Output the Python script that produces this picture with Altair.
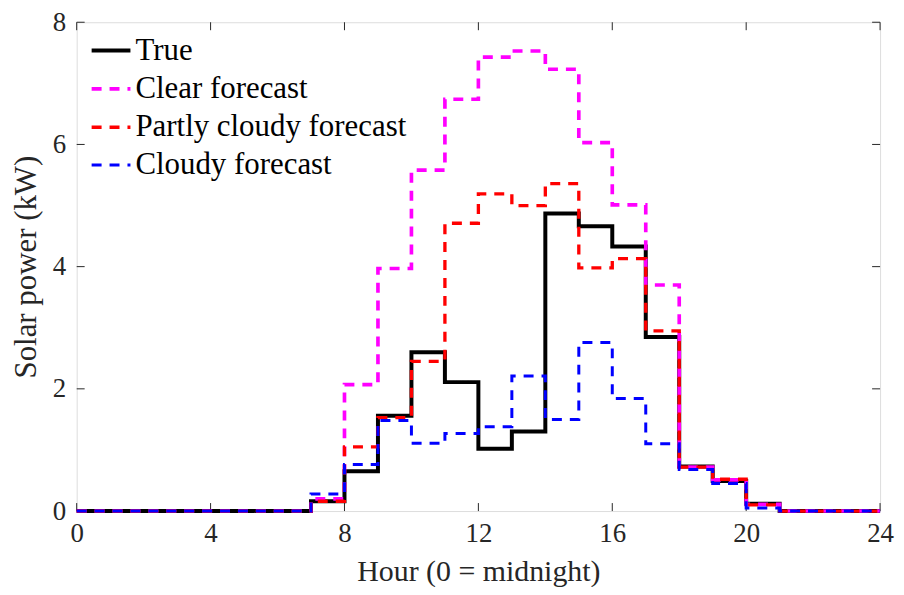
import altair as alt
import pandas as pd

# ---- data ----
series_names = ["True", "Clear forecast", "Partly cloudy forecast", "Cloudy forecast"]
hours = list(range(25))  # step edges 0..24
true_kw = [0, 0, 0, 0, 0, 0, 0, 0.16, 0.65, 1.56, 2.6, 2.11, 1.02, 1.3, 4.87, 4.66,
           4.33, 2.85, 0.73, 0.49, 0.12, 0, 0, 0]
clear_kw = [0, 0, 0, 0, 0, 0, 0, 0.2, 2.07, 3.97, 5.58, 6.74, 7.43, 7.53, 7.23, 6.03,
            5.01, 3.7, 0.72, 0.51, 0.11, 0, 0, 0]
partly_kw = [0, 0, 0, 0, 0, 0, 0, 0.16, 1.05, 1.53, 2.45, 4.71, 5.19, 5.0, 5.36, 3.98,
             4.13, 2.95, 0.72, 0.52, 0.1, 0, 0, 0]
cloudy_kw = [0, 0, 0, 0, 0, 0, 0, 0.28, 0.76, 1.48, 1.11, 1.27, 1.38, 2.21, 1.5, 2.76,
             1.84, 1.1, 0.68, 0.45, 0.05, 0, 0, 0]
x_ticks = [0, 4, 8, 12, 16, 20, 24]
y_ticks = [0, 2, 4, 6, 8]

colors = ["#000000", "#FF00FF", "#FF0000", "#0000FF"]
dashes = [[1, 0], [10, 8], [10, 8], [10, 8]]
widths = [4, 3, 3, 3]

rows = []
for name, vals in zip(series_names, [true_kw, clear_kw, partly_kw, cloudy_kw]):
    v = vals + [vals[-1]]
    for h, y in zip(hours, v):
        rows.append({"hour": h, "kw": y, "series": name})
df = pd.DataFrame(rows)

W, H = 807, 491
FONT = "Liberation Serif"
TXT = "#262626"

xs = alt.Scale(domain=[0, 24], nice=False, zero=False)
ys = alt.Scale(domain=[0, 8], nice=False)


def leg():
    return alt.Legend(title=None, orient="none", legendX=13, legendY=7,
                      symbolType="stroke", symbolSize=1520,
                      labelFont=FONT, labelFontSize=31, labelColor="#000000",
                      labelOffset=3, labelLimit=600, rowPadding=1.5, padding=0)


color_enc = alt.Color("series:N", scale=alt.Scale(domain=series_names, range=colors), legend=leg())
dash_enc = alt.StrokeDash("series:N", scale=alt.Scale(domain=series_names, range=dashes), legend=leg())
width_enc = alt.StrokeWidth("series:N", scale=alt.Scale(domain=series_names, range=widths), legend=leg())

layers = []
for i, name in enumerate(series_names):
    ax_x = alt.Axis(values=x_ticks, ticks=False, grid=False, domain=False, format="d",
                    labelFlush=False, labelOverlap=False,
                    labelFont=FONT, labelFontSize=27, labelColor=TXT, labelPadding=10,
                    title="Hour (0 = midnight)", titleFont=FONT, titleFontSize=30,
                    titleFontWeight="normal", titleColor=TXT, titlePadding=10)
    ax_y = alt.Axis(values=y_ticks, ticks=False, grid=False, domain=False, format="d",
                    labelFlush=False, labelOverlap=False,
                    labelFont=FONT, labelFontSize=27, labelColor=TXT, labelPadding=11,
                    title="Solar power (kW)", titleFont=FONT, titleFontSize=31,
                    titleFontWeight="normal", titleColor=TXT, titlePadding=10)
    layers.append(
        alt.Chart(df).transform_filter(alt.datum.series == name)
        .mark_line(interpolate="step-after", strokeCap="butt", strokeJoin="miter")
        .encode(x=alt.X("hour:Q", scale=xs, axis=ax_x),
                y=alt.Y("kw:Q", scale=ys, axis=ax_y),
                color=color_enc, strokeDash=dash_enc, strokeWidth=width_enc)
    )

xt = pd.DataFrame({"t": x_ticks})
yt = pd.DataFrame({"t": y_ticks})
TL = 8
tick_style = dict(color=TXT, strokeWidth=1)
ticks = [
    alt.Chart(xt).mark_rule(**tick_style).encode(x=alt.X("t:Q", scale=xs), y=alt.value(H), y2=alt.value(H - TL)),
    alt.Chart(xt).mark_rule(**tick_style).encode(x=alt.X("t:Q", scale=xs), y=alt.value(0), y2=alt.value(TL)),
    alt.Chart(yt).mark_rule(**tick_style).encode(y=alt.Y("t:Q", scale=ys), x=alt.value(0), x2=alt.value(TL)),
    alt.Chart(yt).mark_rule(**tick_style).encode(y=alt.Y("t:Q", scale=ys), x=alt.value(W), x2=alt.value(W - TL)),
]

chart = alt.layer(*ticks, *layers).properties(
    width=W, height=H,
    autosize=alt.AutoSizeParams(type="none"),
    padding={"left": 69, "top": 13, "right": 16, "bottom": 75},
).configure_view(stroke=TXT, strokeWidth=1).configure(background="white")

chart.save("out.html", embed_options={"renderer": "svg", "actions": False})
